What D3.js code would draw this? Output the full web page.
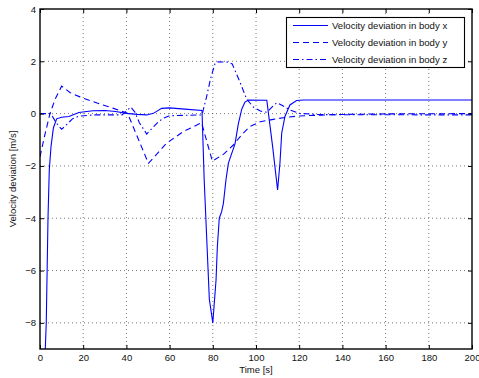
<!DOCTYPE html>
<html>
<head>
<meta charset="utf-8">
<script src="https://cdn.jsdelivr.net/npm/d3@7"></script>
<style>
  html, body { margin: 0; padding: 0; background: #fff; }
  svg { display: block; font-family: "Liberation Sans", Arial, Helvetica, sans-serif; }
</style>
</head>
<body>
<svg id="chart" width="479" height="378"></svg>
<script>
// Velocity deviation in body axes vs. time

const xTicks = [0, 20, 40, 60, 80, 100, 120, 140, 160, 180, 200];
const yTicks = [-8, -6, -4, -2, 0, 2, 4];

const seriesNames = [
  "Velocity deviation in body x",
  "Velocity deviation in body y",
  "Velocity deviation in body z"
];

// body x
const timeX = [0, 2, 2.45, 2.9, 3.7, 4.3, 5.1, 6.2, 7.7, 10, 13.4, 18, 24.4, 30, 35, 40, 45, 49.4, 52.5, 56.3, 60, 67, 75,
  76, 78.4, 80, 81.5, 82.1, 83, 84.1, 84.9, 86.1, 87.2, 88, 89.5, 90.3, 91.8, 93.4, 94.9, 96.5, 105,
  107.7, 110, 111.1, 111.9, 113.4, 115.7, 118.8, 122, 200];
const velX = [-20, -11, -9, -8, -4, -2.15, -1.26, -0.55, -0.2, -0.14, -0.11, 0.04, 0.11, 0.12, 0.08, 0.01, -0.03, -0.05, 0.01, 0.2, 0.22, 0.17, 0.12,
  -2.5, -7.1, -8, -6.36, -5.1, -4.0, -3.75, -3.43, -2.53, -1.9, -1.7, -1.35, -1.15, -0.4, 0.17, 0.44, 0.52, 0.51,
  -1.26, -2.92, -1.88, -0.75, -0.11, 0.33, 0.5, 0.52, 0.52];

// body y
const timeY = [0, 2, 4.6, 7, 10, 14, 18.5, 23, 28, 34, 40.5, 50.2, 58.6, 66.3, 74.8,
  79.8, 85, 89.5, 93, 97, 102, 108, 114, 120, 135, 160, 200];
const velY = [-1.65, -0.9, 0, 0.55, 1.05, 0.8, 0.64, 0.5, 0.36, 0.2, 0.02, -1.9, -1.13, -0.69, -0.35,
  -1.82, -1.55, -1.2, -0.85, -0.5, -0.31, -0.22, -0.14, -0.09, -0.04, -0.01, 0];

// body z
const timeZ = [0, 5, 7.5, 10, 12, 15, 18, 25, 38, 42, 44, 46, 49.4, 52, 55, 57, 60, 75,
  77, 79, 81, 82, 87, 89, 92.6, 95.7, 98.8, 102, 105, 108, 109.6, 112, 115.7, 120, 130, 200];
const velZ = [0, 0, -0.35, -0.6, -0.45, -0.2, -0.1, -0.05, -0.05, 0.25, 0.05, -0.35, -0.78, -0.55, -0.3, -0.18, -0.08, -0.05,
  0.6, 1.35, 1.9, 1.98, 1.97, 1.9, 1.2, 0.55, 0.25, 0.1, 0.05, 0.3, 0.42, 0.32, 0.14, 0.01, -0.04, -0.05];

const series = [
  { t: timeX, v: velX, dash: null },
  { t: timeY, v: velY, dash: "6,4" },
  { t: timeZ, v: velZ, dash: "6,3,1.5,3" }
];

const svg = d3.select("#chart");
const plotL = 40, plotR = 472, plotT = 9, plotB = 349;

const x = d3.scaleLinear().domain([0, 200]).range([plotL, plotR]);
const y = d3.scaleLinear().domain([-9, 4]).range([plotB, plotT]);

svg.append("defs").append("clipPath").attr("id", "plot-clip")
  .append("rect").attr("x", plotL).attr("y", plotT).attr("width", plotR - plotL).attr("height", plotB - plotT);

// dotted grid
const grid = svg.append("g").attr("stroke", "#555").attr("stroke-width", 0.8).attr("stroke-dasharray", "1,3");
grid.selectAll("line.gx").data(xTicks.slice(1, -1)).join("line")
  .attr("x1", d => x(d)).attr("x2", d => x(d)).attr("y1", plotT).attr("y2", plotB);
grid.selectAll("line.gy").data(yTicks.filter(d => d !== 4)).join("line")
  .attr("y1", d => y(d)).attr("y2", d => y(d)).attr("x1", plotL).attr("x2", plotR);

// curves
const plot = svg.append("g").attr("clip-path", "url(#plot-clip)");
series.forEach(s => {
  const pts = s.t.map((t, i) => [t, s.v[i]]);
  plot.append("path")
    .attr("d", d3.line().x(d => x(d[0])).y(d => y(d[1]))(pts))
    .attr("fill", "none").attr("stroke", "#0000ff").attr("stroke-width", 1.1)
    .attr("stroke-dasharray", s.dash);
});

// axes with inward ticks
const fmt = d => d < 0 ? "\u2212" + Math.abs(d) : String(d);
const axB = svg.append("g").attr("transform", `translate(0,${plotB})`)
  .call(d3.axisBottom(x).tickValues(xTicks).tickSize(-4).tickPadding(5).tickFormat(fmt));
const axT = svg.append("g").attr("transform", `translate(0,${plotT})`)
  .call(d3.axisTop(x).tickValues(xTicks).tickSize(-4).tickFormat(""));
const axL = svg.append("g").attr("transform", `translate(${plotL},0)`)
  .call(d3.axisLeft(y).tickValues(yTicks).tickSize(-4).tickPadding(4).tickFormat(fmt));
const axR = svg.append("g").attr("transform", `translate(${plotR},0)`)
  .call(d3.axisRight(y).tickValues(yTicks).tickSize(-4).tickFormat(""));
[axB, axT, axL, axR].forEach(a => {
  a.select(".domain").remove();
  a.selectAll("line").attr("stroke", "#000");
  a.selectAll("text").attr("font-size", 9.5).attr("fill", "#111")
    .attr("font-family", '"Liberation Sans", Arial, sans-serif');
});

svg.append("rect").attr("x", plotL).attr("y", plotT).attr("width", plotR - plotL).attr("height", plotB - plotT)
  .attr("fill", "none").attr("stroke", "#000").attr("stroke-width", 1.4);

// axis titles
svg.append("text").attr("x", (plotL + plotR) / 2).attr("y", 372.5).attr("text-anchor", "middle")
  .attr("font-size", 9.5).attr("fill", "#111").text("Time [s]");
svg.append("text").attr("transform", `translate(16,${(plotT + plotB) / 2}) rotate(-90)`)
  .attr("text-anchor", "middle").attr("font-size", 9.5).attr("fill", "#111").text("Velocity deviation [m/s]");

// legend
const lg = svg.append("g");
lg.append("rect").attr("x", 286.5).attr("y", 17.5).attr("width", 178).attr("height", 50)
  .attr("fill", "#fff").attr("stroke", "#000").attr("stroke-width", 1.1);
series.forEach((s, i) => {
  const ly = 25.5 + i * 17;
  lg.append("line").attr("x1", 293).attr("x2", 328).attr("y1", ly).attr("y2", ly)
    .attr("stroke", "#0000ff").attr("stroke-width", 1.1).attr("stroke-dasharray", s.dash);
  lg.append("text").attr("x", 332).attr("y", ly + 3.5).attr("font-size", 9.6).attr("fill", "#111")
    .text(seriesNames[i]);
});
</script>
</body>
</html>
